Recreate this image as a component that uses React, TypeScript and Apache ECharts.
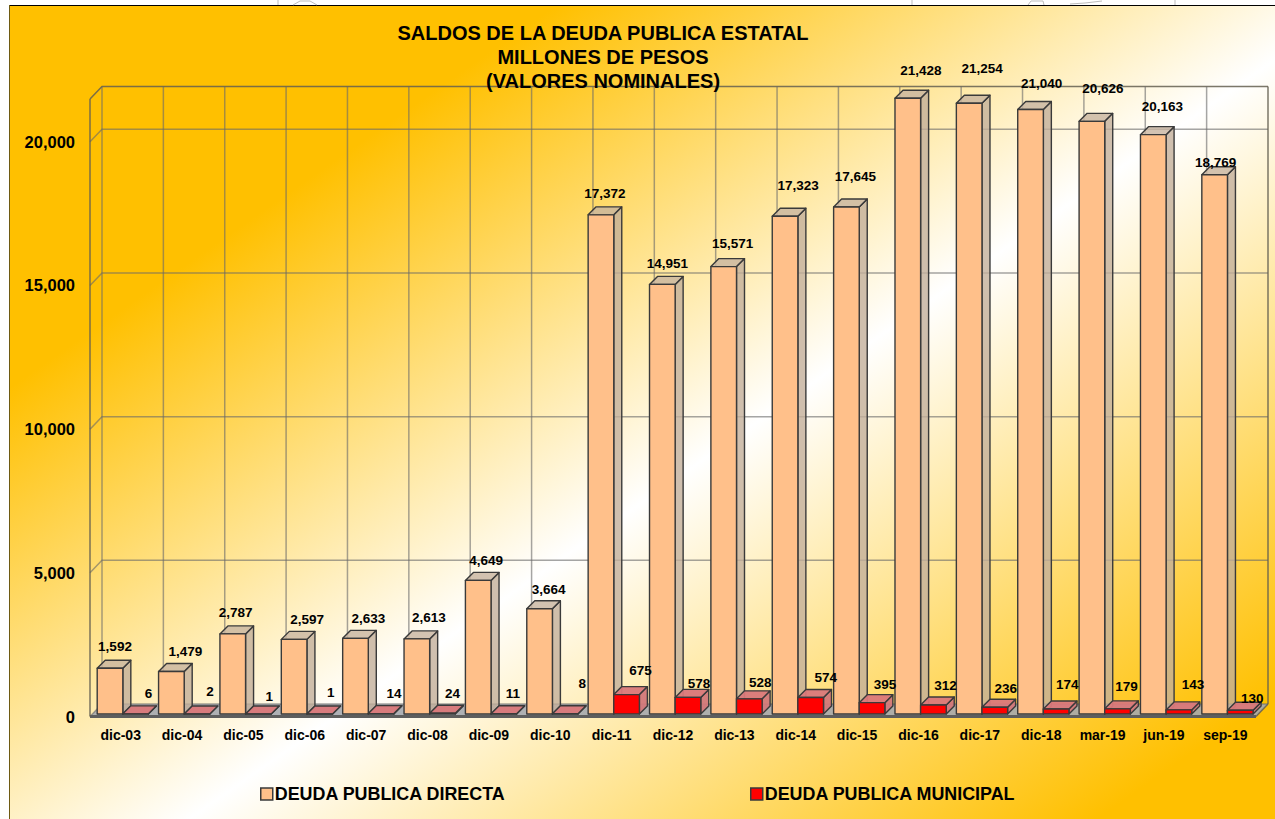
import React, { useEffect, useRef } from "react";
import * as echarts from "echarts";

const categories = ["dic-03","dic-04","dic-05","dic-06","dic-07","dic-08","dic-09","dic-10","dic-11","dic-12","dic-13","dic-14","dic-15","dic-16","dic-17","dic-18","mar-19","jun-19","sep-19"];
const directa = [1592,1479,2787,2597,2633,2613,4649,3664,17372,14951,15571,17323,17645,21428,21254,21040,20626,20163,18769];
const municipal = [6,2,1,1,14,24,11,8,675,578,528,574,395,312,236,174,179,143,130];
const yTicks = [0,5000,10000,15000,20000];
const yMax = 21490;

// hand-placed label nudges of the reference: [dx, dy] from the default spot above each bar
const directNudge = [[0,0],[9,2],[-2,1],[8,2],[8,2],[7,1],[3,2],[4,3],[-1,1],[0,1],[4,-1],[8,-9],[4,-8],[8,-6],[8,-13],[6,-4],[6,-11],[4,-6],[-4,10]];
const muniNudge = [[8,2],[8,0],[6,5],[6,1],[8,2],[5,2],[4,2],[12,-8],[9,-2],[6,8],[6,6],[10,2],[8,4],[7,2],[6,3],[6,-3],[4,0],[9,-3],[7,10]];

const FONT = "'Liberation Sans', Arial, sans-serif";
const DX = 12, DY = 12.5;   // wall depth
const BD = 8;               // bar depth
const fmt = (v: number) => v.toLocaleString("en-US");

function cellOf(api: any, i: number) {
  const band = api.size([1, 0])[0];
  const c = api.coord([i, 0]);
  return { band, left: c[0] - band / 2, y0: c[1] };
}

const gridStyle = { stroke: "rgba(105,105,105,0.6)", lineWidth: 1.5, fill: "none" };
const edgeStyle = { stroke: "rgba(100,95,80,0.85)", lineWidth: 1.5, fill: "none" };

function renderHLine(params: any, api: any) {
  const v = api.value(1);
  const { band, left } = cellOf(api, 0);
  const n = categories.length;
  const y = api.coord([0, v])[1];
  const top = v === yMax;
  const style = top ? edgeStyle : gridStyle;
  const children: any[] = [
    { type: "polyline", shape: { points: [[left, y], [left + DX, y - DY], [left + DX + n * band, y - DY]] }, style },
  ];
  if (v === 0) {
    const r = left + n * band;
    children.unshift({
      type: "polygon",
      shape: { points: [[left, y], [left + DX, y - DY], [r + DX, y - DY], [r, y]] },
      style: { fill: "rgba(165,168,175,0.9)", stroke: "none" },
    });
    children.push({ type: "line", shape: { x1: r, y1: y, x2: r + DX, y2: y - DY }, style: edgeStyle });
    children.push({ type: "line", shape: { x1: left, y1: y, x2: r, y2: y }, style: { stroke: "#5e5e5e", lineWidth: 3 } });
  }
  return { type: "group", children };
}

function renderVLine(params: any, api: any) {
  const i = api.value(0);
  const { band, left, y0 } = cellOf(api, 0);
  const yt = api.coord([0, yMax])[1];
  const x = left + i * band + DX;
  const children: any[] = [
    { type: "line", shape: { x1: x, y1: y0 - DY, x2: x, y2: yt - DY }, style: i === categories.length ? edgeStyle : gridStyle },
  ];
  if (i === 0) {
    children.push({ type: "line", shape: { x1: left, y1: y0, x2: left, y2: yt }, style: edgeStyle });
  }
  return { type: "group", children };
}

function bar3d(offsetBands: number, front: string, top: string, side: string, nudge: number[][]) {
  return (params: any, api: any) => {
    const i = api.value(0);
    const v = api.value(1);
    const { band, left } = cellOf(api, i);
    const w = band * 0.4175;
    const x = left + 7.2 + offsetBands * w;
    const yb = api.coord([i, 0])[1] - 2.5;
    const h = api.coord([i, 0])[1] - api.coord([i, v])[1];
    const yt = yb - h;
    const st = { stroke: "#3a3a3a", lineWidth: 1.4, lineJoin: "round" };
    const [nx, ny] = nudge[i];
    return {
      type: "group",
      children: [
        { type: "polygon", shape: { points: [[x + w, yb], [x + w + BD, yb - BD], [x + w + BD, yt - BD], [x + w, yt]] }, style: { fill: side, ...st } },
        { type: "polygon", shape: { points: [[x, yt], [x + BD, yt - BD], [x + w + BD, yt - BD], [x + w, yt]] }, style: { fill: top, ...st } },
        { type: "rect", shape: { x, y: yt, width: w, height: h }, style: { fill: front, ...st } },
        {
          type: "text",
          style: {
            x: x + w / 2 + 5 + nx, y: yt - 22 + ny,
            text: fmt(v), fill: "#000", font: `bold 13.5px ${FONT}`, textAlign: "center", textVerticalAlign: "middle",
          },
        },
      ],
    };
  };
}

const W = 1275, H = 819;
const MARK = { stroke: "#bdbdbd", lineWidth: 1, fill: "none" };

export default function App() {
  const ref = useRef<HTMLDivElement>(null);
  useEffect(() => {
    document.body.style.margin = "0";
    const chart = echarts.init(ref.current!, undefined, { renderer: "svg" });
    const bg = new (echarts as any).graphic.LinearGradient(
      0, 0, 802, 1147,
      [
        { offset: 0, color: "#FFC000" },
        { offset: 0.231, color: "#FFC000" },
        { offset: 0.557, color: "#FFFFFF" },
        { offset: 0.929, color: "#FFC000" },
        { offset: 1, color: "#FFC000" },
      ],
      true
    );
    chart.setOption({
      animation: false,
      backgroundColor: "#fff",
      title: {
        text: "SALDOS DE LA DEUDA PUBLICA ESTATAL\nMILLONES DE PESOS\n(VALORES NOMINALES)",
        left: 598, top: 16, textAlign: "center",
        textStyle: { fontFamily: FONT, fontSize: 20, fontWeight: "bold", color: "#000", lineHeight: 24 },
      },
      graphic: [
        { type: "rect", z: -1, shape: { x: 9, y: 5, width: 1266, height: 814 }, style: { fill: bg } },
        { type: "line", z: -1, shape: { x1: 9, y1: 5.5, x2: 1275, y2: 5.5 }, style: { stroke: "#000", lineWidth: 1 } },
        { type: "line", z: -1, shape: { x1: 9.5, y1: 5, x2: 9.5, y2: 819 }, style: { stroke: "#6e5a12", lineWidth: 1 } },
        { type: "line", z: -1, shape: { x1: 278, y1: 0, x2: 278, y2: 5 }, style: MARK },
        { type: "polyline", z: -1, shape: { points: [[293, 5], [300, 1], [310, 1], [317, 5]] }, style: MARK },
        { type: "line", z: -1, shape: { x1: 912, y1: 0, x2: 912, y2: 5 }, style: MARK },
        { type: "polyline", z: -1, shape: { points: [[1028, 5], [1031, 1], [1043, 1], [1044, 5]] }, style: MARK },
        { type: "polyline", z: -1, shape: { points: [[1070, 4], [1085, 3], [1102, 1]] }, style: MARK },
        { type: "line", z: -1, shape: { x1: 1175, y1: 0, x2: 1175, y2: 5 }, style: MARK },
      ],
      grid: { left: 90, top: 99, width: 1166, height: 617.5 },
      legend: {
        left: 255, top: 780, itemWidth: 12, itemHeight: 12, itemGap: 244, icon: "rect",
        data: ["DEUDA PUBLICA DIRECTA", "DEUDA PUBLICA MUNICIPAL"],
        itemStyle: { borderColor: "#3a3a3a", borderWidth: 1.5 },
        textStyle: { fontFamily: FONT, fontSize: 17.9, fontWeight: "bold", color: "#000", padding: [0, 0, 0, -3] },
      },
      xAxis: {
        type: "category", data: categories, boundaryGap: true,
        axisLine: { show: false }, axisTick: { show: false }, splitLine: { show: false },
        axisLabel: { interval: 0, margin: 11, color: "#000", fontFamily: FONT, fontSize: 14, fontWeight: "bold" },
      },
      yAxis: {
        type: "value", min: 0, max: yMax, interval: 5000,
        axisLine: { show: false }, axisTick: { show: false }, splitLine: { show: false },
        axisLabel: { margin: 15, color: "#000", fontFamily: FONT, fontSize: 16.5, fontWeight: "bold",
          formatter: (v: number) => (yTicks.includes(v) ? fmt(v) : "") },
      },
      series: [
        { type: "custom", name: "horizontal walls", silent: true, clip: false, z: 1, renderItem: renderHLine,
          data: [...yTicks, yMax].map((v) => [0, v]) },
        { type: "custom", name: "vertical walls", silent: true, clip: false, z: 1, renderItem: renderVLine,
          data: Array.from({ length: categories.length + 1 }, (_, i) => [i, 0]) },
        { type: "custom", name: "DEUDA PUBLICA DIRECTA", silent: true, clip: false, z: 3, itemStyle: { color: "#FFC08A" },
          renderItem: bar3d(0, "#FFC08A", "rgba(200,180,160,0.8)", "rgba(195,175,155,0.8)", directNudge),
          data: directa.map((v, i) => [i, v]) },
        { type: "custom", name: "DEUDA PUBLICA MUNICIPAL", silent: true, clip: false, z: 4, itemStyle: { color: "#FF0000" },
          renderItem: bar3d(1, "#FF0000", "rgba(218,120,122,0.95)", "rgba(210,120,122,0.95)", muniNudge),
          data: municipal.map((v, i) => [i, v]) },
      ],
    });
    return () => chart.dispose();
  }, []);
  return <div ref={ref} style={{ position: "fixed", left: 0, top: 0, width: W, height: H }} />;
}
